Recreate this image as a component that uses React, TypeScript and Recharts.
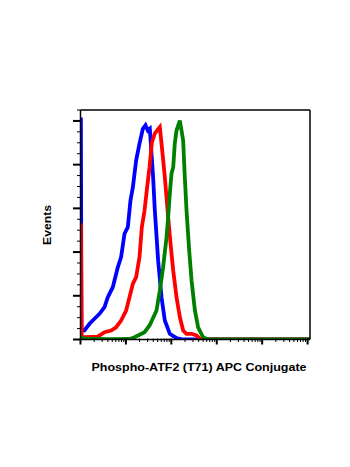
import React from 'react';
import { LineChart, Line, XAxis, YAxis, Label } from 'recharts';

// Channel values (log axis) and event counts
const blueChannel = [1.02, 1.05, 1.22, 1.58, 2.03, 2.62, 3.38, 3.99, 5.14, 6.63, 7.84, 9.31, 11.0, 12.6, 14.2, 16.8, 19.9, 23.6, 27, 30.4, 33.6, 39.7, 43.3, 51.2, 60.8, 71.9, 92.7, 130, 182, 1000, 10000, 113000];
const blueEvents = [254, 10, 10.3, 18, 23.7, 29.4, 37, 48.4, 59.8, 82.7, 94.2, 121, 128.5, 159, 174, 205, 224, 241, 245, 239, 241, 185.7, 147.6, 90.4, 48.4, 21.7, 6.5, 1.5, 0, 0, 0, 0];

const redChannel = [1.02, 1.06, 1.22, 2.4, 3.38, 4.72, 6.08, 7.84, 10.1, 12, 14.2, 16.8, 19.9, 22.4, 25.7, 29.3, 33.1, 37.2, 43.3, 55.8, 64, 71.9, 85.1, 96, 110, 130, 154, 182, 216, 279, 359, 425, 547, 10000, 113000];
const redEvents = [132.7, 2.6, 2.6, 3.4, 8.4, 10.3, 14, 21.7, 33.2, 48.4, 63.7, 71.3, 94.2, 128.5, 147.6, 174, 197, 225, 235.7, 243, 212.8, 185.7, 140, 109.8, 78.9, 48.4, 25.5, 10.3, 6.5, 6.5, 4.6, 0.8, 0, 0, 0];

const greenChannel = [1.0, 1.22, 4.42, 12.2, 15.5, 25.7, 33.1, 47.2, 55.8, 65.9, 78.4, 85.1, 92.7, 101, 110, 119, 130, 154, 182, 198, 216, 247, 279, 330, 389, 501, 637, 10000, 113000];
const greenEvents = [2.6, 1.1, 0.5, 0.6, 2.6, 8.4, 16, 33.2, 56, 82.7, 117, 140, 167, 190, 197, 224, 239, 250.5, 227.7, 185.7, 147.6, 101.8, 67.5, 33.2, 14, 2.6, 0, 0, 0];

const xMajorTicks = [1, 10, 100, 1000, 10000, 100000];
const xTicks: number[] = [];
for (let d = 1; d <= 10000; d *= 10) {
  for (let m = 1; m <= 9; m++) xTicks.push(m * d);
}
xTicks.push(100000);

const yMajorTicks = [0, 50, 100, 150, 200, 250];
const yTicks = [0, 12.5, 25, 37.5, 50, 62.5, 75, 87.5, 100, 112.5, 125, 137.5, 150, 162.5, 175, 187.5, 200, 212.5, 225, 237.5, 250, 262.5];

const xLabel = 'Phospho-ATF2 (T71) APC Conjugate';
const yLabel = 'Events';

const zip = (xs: number[], ys: number[]) => xs.map((x, i) => ({ x, y: ys[i] }));
const blueData = zip(blueChannel, blueEvents);
const redData = zip(redChannel, redEvents);
const greenData = zip(greenChannel, greenEvents);

const FONT = '"Liberation Sans", Arial, sans-serif';

const XTick = (props: any) => {
  const { x, y, payload } = props;
  const major = xMajorTicks.includes(payload.value);
  return (
    <line x1={x} x2={x} y1={y - 1} y2={y - 1 + (major ? 6 : 3.5)} stroke="#000" strokeWidth={major ? 2 : 1} />
  );
};

const YTick = (props: any) => {
  const { x, y, payload } = props;
  const major = yMajorTicks.includes(payload.value);
  return (
    <line x1={x - (major ? 7.5 : 3.5)} x2={x} y1={y} y2={y} stroke="#000" strokeWidth={major ? 2 : 1} />
  );
};

export default function App() {
  return (
    <div style={{ position: 'absolute', left: 0, top: 0, width: 350, height: 467, background: '#fff' }}>
      <LineChart width={350} height={467} margin={{ top: 109, right: 39, bottom: 126.5, left: 79.5 }}>
        <XAxis
          xAxisId="bottom"
          dataKey="x"
          type="number"
          scale="log"
          domain={[1, 113000]}
          allowDataOverflow
          ticks={xTicks}
          interval={0}
          height={1}
          tickSize={0}
          tickMargin={0}
          tickLine={false}
          tick={<XTick />}
          axisLine={{ stroke: '#000', strokeWidth: 1.5 }}
        >
          <Label
            content={() => (
              <text x={199} y={371} textAnchor="middle" fontFamily={FONT} fontWeight="bold" fontSize={11.5} textLength={215} lengthAdjust="spacingAndGlyphs" fill="#000">
                {xLabel}
              </text>
            )}
          />
        </XAxis>
        <XAxis
          xAxisId="top"
          orientation="top"
          dataKey="x"
          type="number"
          scale="log"
          domain={[1, 113000]}
          allowDataOverflow
          height={1}
          tick={false}
          tickLine={false}
          axisLine={{ stroke: '#000', strokeWidth: 1.5 }}
        />
        <YAxis
          yAxisId="left"
          type="number"
          domain={[0, 262.5]}
          allowDataOverflow
          ticks={yTicks}
          interval={0}
          width={1}
          tickSize={0}
          tickMargin={0}
          tickLine={false}
          tick={<YTick />}
          axisLine={{ stroke: '#000', strokeWidth: 1.5 }}
        >
          <Label
            content={() => (
              <text x={50.6} y={225} textAnchor="middle" transform="rotate(-90, 50.6, 225)" fontFamily={FONT} fontWeight="bold" fontSize={11.5} textLength={40} lengthAdjust="spacingAndGlyphs" fill="#000">
                {yLabel}
              </text>
            )}
          />
        </YAxis>
        <YAxis
          yAxisId="right"
          orientation="right"
          type="number"
          domain={[0, 262.5]}
          width={1}
          tick={false}
          tickLine={false}
          axisLine={{ stroke: '#000', strokeWidth: 1.5 }}
        />
        <Line xAxisId="bottom" yAxisId="left" data={blueData} dataKey="y" type="linear" stroke="#0000ff" strokeWidth={3.8} dot={false} isAnimationActive={false} />
        <Line xAxisId="bottom" yAxisId="left" data={redData} dataKey="y" type="linear" stroke="#ff0000" strokeWidth={3.8} dot={false} isAnimationActive={false} />
        <Line xAxisId="bottom" yAxisId="left" data={greenData} dataKey="y" type="linear" stroke="#008000" strokeWidth={3.8} dot={false} isAnimationActive={false} />
      </LineChart>
    </div>
  );
}
